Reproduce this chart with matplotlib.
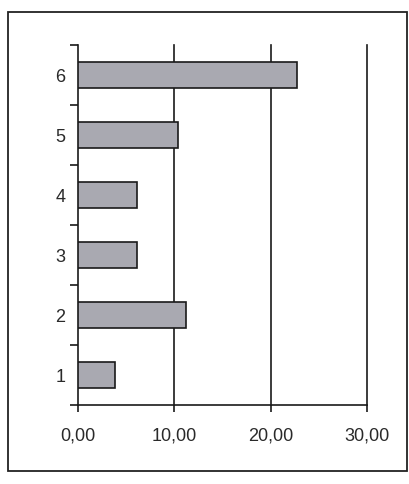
import matplotlib
matplotlib.use("Agg")
import matplotlib.pyplot as plt
from matplotlib.patches import Rectangle

categories = ["1", "2", "3", "4", "5", "6"]
values = [3.8, 11.2, 6.1, 6.1, 10.4, 22.7]
xticks = [0, 10, 20, 30]
xticklabels = ["0,00", "10,00", "20,00", "30,00"]

plt.rcParams['font.family'] = ['Liberation Sans', 'DejaVu Sans']

fig = plt.figure(figsize=(4.09, 4.84), dpi=100)
fig.patch.set_facecolor("white")

# outer chart border
fig.add_artist(Rectangle((8/409, 1 - 471/484), (407 - 8)/409, (471 - 12)/484,
                         transform=fig.transFigure, fill=False,
                         edgecolor="#222222", linewidth=1.3))

ax = fig.add_axes([78/409, 1 - 405/484, (367 - 78)/409, (405 - 45)/484])
pos = list(range(1, len(categories) + 1))
ax.barh(pos, values, height=0.42, color="#a9a9b1", edgecolor="#1a1a1a",
        linewidth=1.2, zorder=3)

ax.set_xlim(0, 30)
ax.set_ylim(0.5, len(categories) + 0.5)
ax.set_xticks(xticks)
ax.set_xticklabels(xticklabels, fontsize=13, color="#2a2a2a")
ax.set_yticks(pos)
ax.set_yticklabels(categories, fontsize=13, color="#2a2a2a")
ax.tick_params(axis="y", length=0, pad=9)
ax.set_yticks([p + 0.5 for p in range(0, len(categories) + 1)], minor=True)
ax.tick_params(axis="y", which="minor", length=6, width=1.2, color="#1a1a1a")
ax.tick_params(axis="x", length=5, width=1.2, color="#1a1a1a", pad=11)

for x in xticks[1:]:
    ax.axvline(x, color="#1a1a1a", linewidth=1.2, zorder=1, clip_on=False)

for s in ["top", "right"]:
    ax.spines[s].set_visible(False)
for s in ["left", "bottom"]:
    ax.spines[s].set_linewidth(1.2)
    ax.spines[s].set_color("#1a1a1a")

fig.savefig("out.png", dpi=100)
